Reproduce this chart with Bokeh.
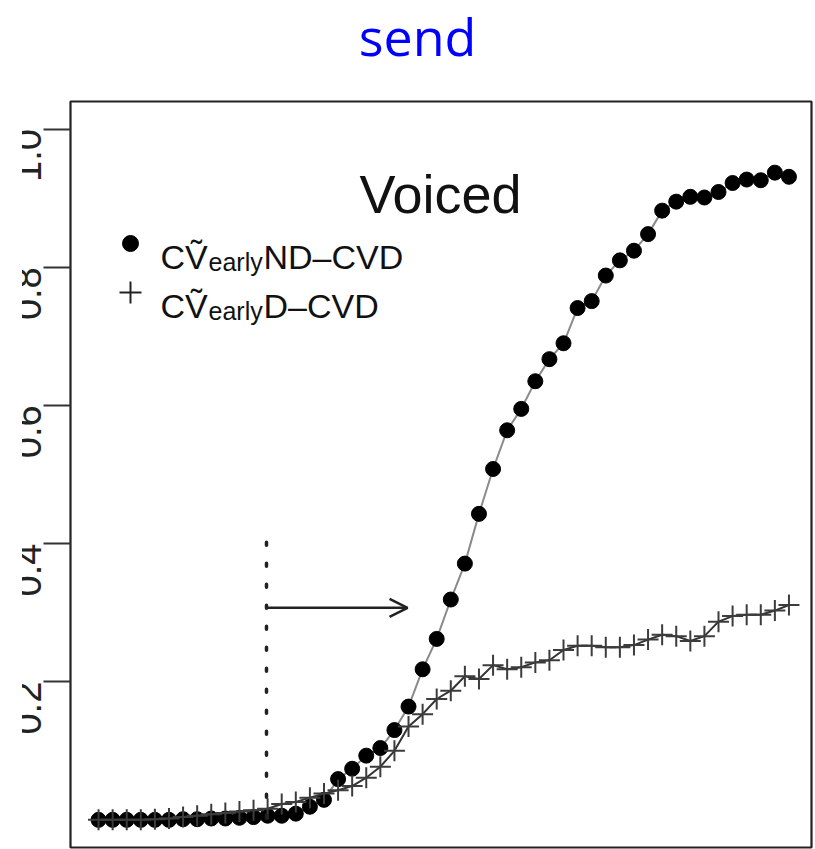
import math
from bokeh.plotting import figure
from bokeh.models import Range1d, FixedTicker, Label, Arrow, OpenHead, Div
from bokeh.layouts import column
from bokeh.core.properties import value
from bokeh.embed import file_html
from bokeh.resources import INLINE

# ---------------- data ----------------
frames = list(range(1, 51))
nd_values = [0.000, 0.000, 0.000, 0.000, 0.000, 0.000, 0.001, 0.001, 0.002, 0.002,
             0.003, 0.004, 0.006, 0.006, 0.009, 0.019, 0.029, 0.059, 0.074, 0.093,
             0.104, 0.130, 0.164, 0.218, 0.262, 0.319, 0.371, 0.443, 0.508, 0.564,
             0.595, 0.635, 0.667, 0.690, 0.741, 0.751, 0.788, 0.810, 0.824, 0.848,
             0.882, 0.895, 0.902, 0.901, 0.909, 0.922, 0.927, 0.926, 0.937, 0.931]
d_values = [0.000, 0.000, 0.000, 0.000, 0.001, 0.002, 0.004, 0.006, 0.008, 0.010,
            0.012, 0.014, 0.016, 0.023, 0.026, 0.032, 0.038, 0.043, 0.049, 0.061,
            0.077, 0.100, 0.135, 0.153, 0.175, 0.187, 0.208, 0.204, 0.224, 0.218,
            0.221, 0.228, 0.231, 0.246, 0.252, 0.252, 0.250, 0.250, 0.253, 0.261,
            0.268, 0.266, 0.259, 0.266, 0.287, 0.295, 0.297, 0.297, 0.303, 0.311]
y_ticks = [0.2, 0.4, 0.6, 0.8, 1.0]
y_tick_labels = ["0.2", "0.4", "0.6", "0.8", "1.0"]
onset_frame = 12.92
arrow_end_frame = 22.93
arrow_level = 0.307
onset_top = 0.402

page_title = "send"
panel_title = "Voiced"
legend_rows = [("C\u1E7C", "early", "ND\u2013CVD"), ("C\u1E7C", "early", "D\u2013CVD")]

# ---------------- layout ----------------
X_START, X_END = -0.99, 51.6
Y_START, Y_END = -0.04, 1.04
TITLE_H = 72
FRAME_L, FRAME_T = 70, 101
FRAME_W, FRAME_H = 741, 746
LEFT_BORDER = 100          # room for the y axis inside the canvas
SHIFT = LEFT_BORDER - FRAME_L
CUT_AT = 22                # page x where the tick labels are cut


def px_x(px):
    return X_START + (px - FRAME_L) / FRAME_W * (X_END - X_START)


def px_y(py):
    return Y_END - (py - FRAME_T) / FRAME_H * (Y_END - Y_START)


title_div = Div(
    text=('<div style="font-family:\'Open Sans\';font-size:52px;line-height:71px;'
          'color:#0000FF;text-align:center;box-sizing:border-box;width:815px;'
          'padding-left:20px;margin:0;">' + page_title + '</div>'),
    width=815, height=TITLE_H, margin=0)

p = figure(frame_width=FRAME_W, frame_height=FRAME_H,
           min_border_left=LEFT_BORDER, min_border_right=4,
           min_border_top=FRAME_T - TITLE_H, min_border_bottom=2,
           x_range=Range1d(X_START, X_END), y_range=Range1d(Y_START, Y_END),
           output_backend="svg", toolbar_location=None,
           background_fill_color="white", border_fill_color="white")
p.margin = 0
p.styles = {"transform": "translateX(-%dpx)" % SHIFT,
            "clip-path": "inset(0px 0px 0px %dpx)" % (CUT_AT + SHIFT)}

p.xaxis.visible = False
p.xgrid.visible = False
p.ygrid.visible = False
p.outline_line_color = "#222222"
p.outline_line_width = 2.2

ax = p.yaxis[0]
ax.ticker = FixedTicker(ticks=y_ticks)
ax.major_label_overrides = {t: lab for t, lab in zip(y_ticks, y_tick_labels)}
ax.axis_line_color = None
ax.major_tick_out = 27
ax.major_tick_in = 0
ax.major_tick_line_width = 2
ax.major_tick_line_color = "#333333"
ax.minor_tick_line_color = None
ax.major_label_orientation = math.pi / 2
ax.major_label_text_font = "Liberation Sans"
ax.major_label_text_font_size = "38px"
ax.major_label_text_color = "#222222"
ax.major_label_standoff = 16

# series
p.line(frames, nd_values, line_color="#8a8a8a", line_width=2)
p.scatter(frames, nd_values, marker="circle", size=15, fill_color="black",
          line_color="black")
p.line(frames, d_values, line_color="#333333", line_width=2)
p.scatter(frames, d_values, marker="cross", size=21, line_color="#3c3c3c",
          line_width=2)

# onset marker and arrow
p.segment(x0=[onset_frame], y0=[onset_top], x1=[onset_frame], y1=[0.0],
          line_dash=value("3 18"), line_width=3.5, line_cap="round",
          line_color="#222222")
p.add_layout(Arrow(end=OpenHead(size=18, line_width=2.5, line_color="#222222"),
                   x_start=onset_frame, y_start=arrow_level,
                   x_end=arrow_end_frame, y_end=arrow_level,
                   line_width=2.5, line_color="#222222"))

# panel title
p.add_layout(Label(x=px_x(440), y=px_y(193), text=panel_title,
                   text_align="center", text_baseline="alphabetic",
                   text_font="Liberation Sans", text_font_size="54px",
                   text_color="#111111"))

# legend
p.scatter([px_x(130)], [px_y(243)], marker="circle", size=16,
          fill_color="black", line_color="black")
p.scatter([px_x(130)], [px_y(292)], marker="cross", size=22,
          line_color="#222222", line_width=2)
for (a, sub, b), base in zip(legend_rows, [256, 305]):
    p.add_layout(Label(x=px_x(160), y=px_y(base), text=a,
                       text_baseline="alphabetic", text_font="Liberation Sans",
                       text_font_size="34px", text_color="#111111"))
    p.add_layout(Label(x=px_x(208), y=px_y(base + 5), text=sub,
                       text_baseline="alphabetic", text_font="Liberation Sans",
                       text_font_size="25px", text_color="#111111"))
    p.add_layout(Label(x=px_x(263), y=px_y(base), text=b,
                       text_baseline="alphabetic", text_font="Liberation Sans",
                       text_font_size="34px", text_color="#111111"))

layout = column(title_div, p)

open("out.html", "w").write(file_html(layout, INLINE))
